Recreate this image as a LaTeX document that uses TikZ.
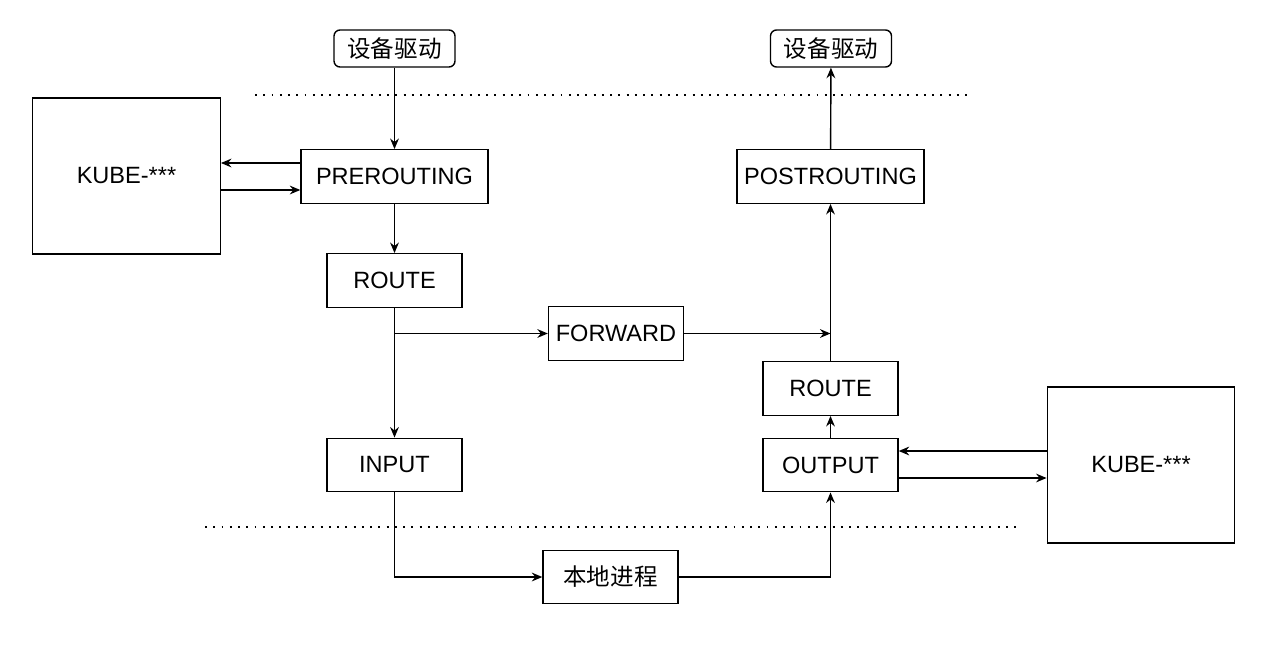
\documentclass[tikz,border=0pt]{standalone}
\usepackage{fontspec}
\setmainfont{Liberation Sans}
\newfontfamily\cjk{Noto Sans CJK SC}
\usetikzlibrary{arrows.meta}

\begin{document}
\begin{tikzpicture}[x=0.02cm,y=-0.02cm,line width=0.8pt,>={Stealth[length=6pt,width=5pt,inset=2pt]},
    font=\fontsize{13.4pt}{16pt}\selectfont,
    box/.style={draw, inner sep=0pt, minimum width=2.7cm, minimum height=1.07cm},
    widebox/.style={box, minimum width=3.74cm},
    kubebox/.style={draw, inner sep=0pt, minimum width=3.75cm, minimum height=3.12cm},
    devbox/.style={draw, rounded corners=0.12cm, inner sep=0pt, minimum width=2.42cm, minimum height=0.74cm, font=\fontsize{13.4pt}{16pt}\cjk},
    sep/.style={line width=1.1pt, dash pattern=on 1.1pt off 3.6pt}]
            \useasboundingbox (0,0) rectangle (1270,649);

            % the kernel boundaries
            \draw[sep] (255,95) -- (970,95);
            \draw[sep] (205,527) -- (1018,527);

            % incoming side
            \node[devbox] (drvin) at (394.5,48.5) {设备驱动};
            \node[widebox] (pre) at (394.5,176.5) {PREROUTING};
            \node[kubebox] (kubein) at (126.5,176) {KUBE-***};
            \node[box] (routein) at (394.5,280.5) {ROUTE};
            \node[box] (input) at (394.5,465) {INPUT};

            % forward and local process
            \node[box] (forward) at (616,333.5) {FORWARD};
            \node[box, font=\fontsize{13.4pt}{16pt}\cjk] (local) at (610.5,577) {本地进程};

            % outgoing side
            \node[devbox] (drvout) at (831,48.5) {设备驱动};
            \node[widebox] (post) at (830.5,176.5) {POSTROUTING};
            \node[box] (routeout) at (830.5,388.5) {ROUTE};
            \node[box] (output) at (830.5,465) {OUTPUT};
            \node[kubebox] (kubeout) at (1141,465) {KUBE-***};

            % connectors
            \draw[->] (drvin) -- (pre);
            \draw[->] ([yshift=0.27cm]pre.west) -- ([yshift=0.27cm]pre.west -| kubein.east);
            \draw[->] ([yshift=-0.27cm]pre.west -| kubein.east) -- ([yshift=-0.27cm]pre.west);
            \draw[->] (pre) -- (routein);
            \draw[->] (routein) -- (input);
            \draw[->] (routein.south |- forward.west) -- (forward.west);
            \coordinate (merge) at (forward.east -| post.south);
            \draw[->] (forward.east) -- (merge);
            \draw[->] (input.south) |- (local.west);
            \draw[->] (local.east) -| (output.south);
            \draw[->] ([yshift=0.28cm]output.east -| kubeout.west) -- ([yshift=0.28cm]output.east);
            \draw[->] ([yshift=-0.26cm]output.east) -- ([yshift=-0.26cm]output.east -| kubeout.west);
            \draw[->] (output) -- (routeout);
            \draw[->] (routeout) -- (post);
            \draw[->] (post) -- (drvout);

        \end{tikzpicture}
\end{document}
